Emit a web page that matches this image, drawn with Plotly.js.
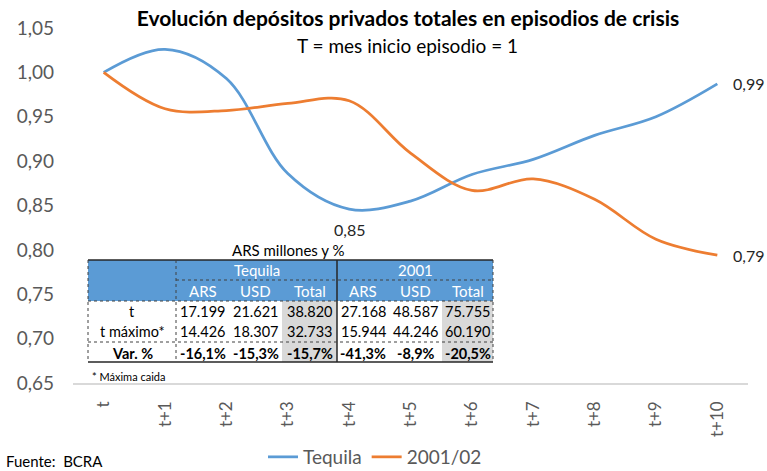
<!DOCTYPE html>
<html>
<head>
<meta charset="utf-8">
<script src="https://cdn.plot.ly/plotly-3.0.1.min.js"></script>
<style>
  html, body { margin: 0; padding: 0; background: #fff; }
  #chart { width: 767px; height: 471px; }
</style>
</head>
<body>
<div id="chart"></div>
<script>
// ---------- DATA ----------
const periods = ['t', 't+1', 't+2', 't+3', 't+4', 't+5', 't+6', 't+7', 't+8', 't+9', 't+10'];
const tequila = [1.000, 1.026, 0.993, 0.886, 0.846, 0.855, 0.885, 0.902, 0.929, 0.950, 0.987];
const crisis2001 = [1.000, 0.959, 0.957, 0.965, 0.968, 0.909, 0.867, 0.880, 0.857, 0.812, 0.794];
const seriesNames = ['Tequila', '2001/02'];

const tableTitle = 'ARS millones y %';
const tableGroups = ['Tequila', '2001'];
const tableSubHeads = ['ARS', 'USD', 'Total'];
const tableRowLabels = ['t', 't máximo*', 'Var. %'];
const tequilaT = [17199, 21621, 38820];
const tequilaTmax = [14426, 18307, 32733];
const tequilaVar = [-16.1, -15.3, -15.7];
const c2001T = [27168, 48587, 75755];
const c2001Tmax = [15944, 44246, 60190];
const c2001Var = [-41.3, -8.9, -20.5];
const footnote = '* Máxima caida';
const source = 'Fuente:  BCRA';
const titleText = 'Evolución depósitos privados totales en episodios de crisis';
const subtitleText = 'T = mes inicio episodio = 1';

// ---------- HELPERS ----------
const FONT = 'Lato, "Noto Sans", sans-serif';
const W = 767, H = 471;
const M = { l: 73, r: 19, t: 28, b: 88 };
const PW = W - M.l - M.r, PH = H - M.t - M.b;
const px = x => (x - M.l) / PW;
const py = y => (M.t + PH - y) / PH;
const fmtThousands = v => String(v).replace(/\B(?=(\d{3})+(?!\d))/g, '.');
const fmtPct = v => v.toFixed(1).replace('.', ',') + '%';
const fmtDec = v => (Math.round(v * 100) / 100).toFixed(2).replace('.', ',');

const BLUE = '#5b9bd5', ORANGE = '#ed7d31';

// ---------- TRACES ----------
const traces = [
  { x: periods, y: tequila, name: seriesNames[0], type: 'scatter', mode: 'lines',
    line: { color: BLUE, width: 2.75, shape: 'spline', smoothing: 1 }, hoverinfo: 'skip' },
  { x: periods, y: crisis2001, name: seriesNames[1], type: 'scatter', mode: 'lines',
    line: { color: ORANGE, width: 2.75, shape: 'spline', smoothing: 1 }, hoverinfo: 'skip' }
];

// ---------- ANNOTATIONS ----------
const ann = [];
const last = periods.length - 1;
const minIdx = tequila.indexOf(Math.min(...tequila));
const lblFont = { family: FONT, size: 16, color: '#262626' };
ann.push({ xref: 'x', yref: 'y', x: periods[minIdx], y: tequila[minIdx], text: fmtDec(tequila[minIdx]),
  showarrow: false, yshift: -20, font: lblFont });
ann.push({ xref: 'x', yref: 'y', x: periods[last], y: tequila[last], text: fmtDec(tequila[last]),
  showarrow: false, xanchor: 'left', xshift: 14, font: lblFont });
ann.push({ xref: 'x', yref: 'y', x: periods[last], y: crisis2001[last], text: fmtDec(crisis2001[last]),
  showarrow: false, xanchor: 'left', xshift: 14, font: lblFont });

// subtitle & source
ann.push({ xref: 'paper', yref: 'paper', x: px(407), y: py(45), text: subtitleText, showarrow: false,
  xanchor: 'center', yanchor: 'middle', font: { family: FONT, size: 19, color: '#000' } });
ann.push({ xref: 'paper', yref: 'paper', x: px(4), y: py(461), text: source, showarrow: false,
  xanchor: 'left', yanchor: 'middle', font: { family: FONT, size: 15, color: '#000' } });

// ---------- TABLE (shapes + annotations) ----------
const T = { x0: 88, x1: 493, yTop: 260, yH1: 280, yH2: 301, rows: [301, 321, 342, 362] };
const colEdges = [176, 229, 282, 337, 389, 442, 493];
const shapes = [];
const rect = (x0, y0, x1, y1, fill) => shapes.push({ type: 'rect', xref: 'paper', yref: 'paper',
  x0: px(x0), x1: px(x1), y0: py(y0), y1: py(y1), fillcolor: fill, line: { width: 0 }, layer: 'above' });
const seg = (x0, y0, x1, y1, color, width, dash) => shapes.push({ type: 'line', xref: 'paper', yref: 'paper',
  x0: px(x0), x1: px(x1), y0: py(y0), y1: py(y1), line: { color, width, dash }, layer: 'above' });

rect(T.x0, T.yTop, T.x1, T.yH2, BLUE);
rect(colEdges[2], T.yH2, colEdges[3], T.rows[3], '#d9d9d9');
rect(colEdges[5], T.yH2, colEdges[6], T.rows[3], '#d9d9d9');
seg(T.x0, T.yTop, T.x1, T.yTop, '#262626', 1.5, 'solid');
seg(T.x0, T.rows[3], T.x1, T.rows[3], '#262626', 1.5, 'solid');
seg(T.x0, T.yTop, T.x0, T.rows[3], '#404040', 1, 'dot');
seg(T.x1, T.yTop, T.x1, T.rows[3], '#404040', 1, 'dot');
seg(colEdges[0], T.yTop, colEdges[0], T.rows[3], '#404040', 1, 'dot');
seg(colEdges[3], T.yTop, colEdges[3], T.rows[3], '#262626', 1.5, 'solid');
seg(colEdges[0], T.yH1, T.x1, T.yH1, '#404040', 1, 'dot');
seg(T.x0, T.yH2, T.x1, T.yH2, '#404040', 1, 'dot');
seg(T.x0, T.rows[2], T.x1, T.rows[2], '#404040', 1, 'dot');

const cellFont = { family: FONT, size: 14.5, color: '#000' };
const headFont = { family: FONT, size: 15, color: '#fff' };
const cellText = (x, y, text, font) => ann.push({ xref: 'paper', yref: 'paper',
  x: px(x), y: py(y), text, showarrow: false, xanchor: 'center', yanchor: 'middle', font: font || cellFont });

cellText((T.x0 + T.x1) / 2 - 2, 250, tableTitle, { family: FONT, size: 15, color: '#000' });
cellText((colEdges[0] + colEdges[3]) / 2, (T.yTop + T.yH1) / 2, tableGroups[0], headFont);
cellText((colEdges[3] + colEdges[6]) / 2, (T.yTop + T.yH1) / 2, tableGroups[1], headFont);
for (let g = 0; g < 2; g++) {
  for (let c = 0; c < 3; c++) {
    const i = g * 3 + c;
    cellText((colEdges[i] + colEdges[i + 1]) / 2, (T.yH1 + T.yH2) / 2, tableSubHeads[c], headFont);
  }
}
const bodyRows = [
  [...tequilaT.map(fmtThousands), ...c2001T.map(fmtThousands)],
  [...tequilaTmax.map(fmtThousands), ...c2001Tmax.map(fmtThousands)],
  [...tequilaVar.map(fmtPct), ...c2001Var.map(fmtPct)]
];
for (let r = 0; r < 3; r++) {
  const yc = (T.rows[r] + T.rows[r + 1]) / 2 + (r === 2 ? 1 : 0);
  const bold = r === 2;
  cellText((T.x0 + colEdges[0]) / 2, yc, bold ? '<b>' + tableRowLabels[r] + '</b>' : tableRowLabels[r]);
  for (let i = 0; i < 6; i++) {
    cellText((colEdges[i] + colEdges[i + 1]) / 2, yc, bold ? '<b>' + bodyRows[r][i] + '</b>' : bodyRows[r][i]);
  }
}
ann.push({ xref: 'paper', yref: 'paper', x: px(90), y: py(376), text: footnote, showarrow: false,
  xanchor: 'left', yanchor: 'middle', font: { family: FONT, size: 11, color: '#000' } });

// ---------- LAYOUT ----------
const layout = {
  width: W, height: H,
  margin: Object.assign({ autoexpand: false }, M),
  paper_bgcolor: '#fff', plot_bgcolor: '#fff',
  separators: ',.',
  font: { family: FONT, color: '#595959' },
  title: { text: '<b>' + titleText + '</b>', x: 408 / W, xanchor: 'center', y: 1 - 19 / H, yanchor: 'middle',
    font: { family: FONT, size: 21, color: '#000' } },
  xaxis: { type: 'category', categoryorder: 'array', categoryarray: periods, range: [-0.5, periods.length - 0.5],
    showline: true, linecolor: '#d9d9d9', linewidth: 1.5, showgrid: false, zeroline: false,
    ticks: '', tickangle: -90, ticklabelstandoff: 10, tickfont: { family: FONT, size: 17, color: '#595959' } },
  yaxis: { range: [0.65, 1.05], dtick: 0.05, tick0: 0.65, tickformat: '.2f', showgrid: false, zeroline: false,
    showline: false, ticks: '', ticklabelstandoff: 18, tickfont: { family: FONT, size: 19, color: '#595959' } },
  showlegend: true,
  legend: { orientation: 'h', xref: 'container', yref: 'container', x: 375 / W, xanchor: 'center',
    y: 1 - 457 / H, yanchor: 'middle',
    font: { family: FONT, size: 19, color: '#595959' }, bgcolor: 'rgba(0,0,0,0)' },
  annotations: ann,
  shapes: shapes
};

Plotly.newPlot('chart', traces, layout, { staticPlot: true, displayModeBar: false });
</script>
</body>
</html>
